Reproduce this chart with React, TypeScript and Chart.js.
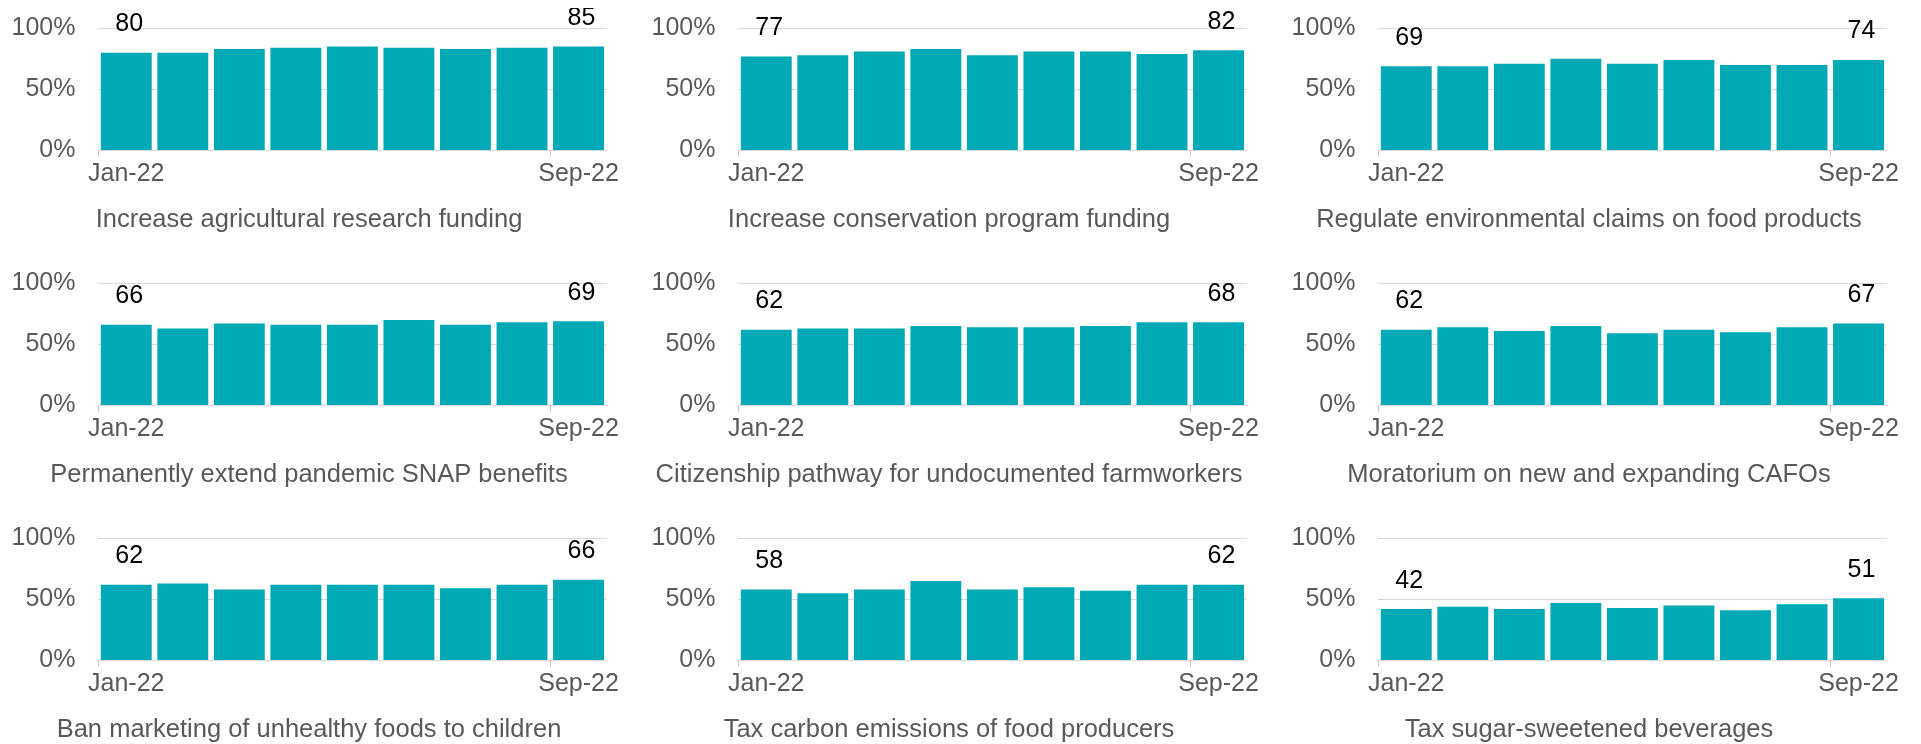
import React, { useEffect, useRef } from 'react';
import { Chart, registerables } from 'chart.js';

Chart.register(...registerables);

const months = ['Jan-22', 'Feb-22', 'Mar-22', 'Apr-22', 'May-22', 'Jun-22', 'Jul-22', 'Aug-22', 'Sep-22'];
const shownTickIndexes = [0, 8];
const yTicks = [0, 50, 100];

const titles = [
  'Increase agricultural research funding',
  'Increase conservation program funding',
  'Regulate environmental claims on food products',
  'Permanently extend pandemic SNAP benefits',
  'Citizenship pathway for undocumented farmworkers',
  'Moratorium on new and expanding CAFOs',
  'Ban marketing of unhealthy foods to children',
  'Tax carbon emissions of food producers',
  'Tax sugar-sweetened beverages',
];

const agResearch = [80, 80, 83, 84, 85, 84, 83, 84, 85];
const conservation = [77, 78, 81, 83, 78, 81, 81, 79, 82];
const envClaims = [69, 69, 71, 75, 71, 74, 70, 70, 74];
const snapBenefits = [66, 63, 67, 66, 66, 70, 66, 68, 69];
const citizenship = [62, 63, 63, 65, 64, 64, 65, 68, 68];
const cafoMoratorium = [62, 64, 61, 65, 59, 62, 60, 64, 67];
const banMarketing = [62, 63, 58, 62, 62, 62, 59, 62, 66];
const carbonTax = [58, 55, 58, 65, 58, 60, 57, 62, 62];
const sugarTax = [42, 44, 42, 47, 43, 45, 41, 46, 51];

const seriesList = [agResearch, conservation, envClaims, snapBenefits, citizenship, cafoMoratorium, banMarketing, carbonTax, sugarTax];

const FONT = '"Liberation Sans", Arial, sans-serif';
const TEAL = 'rgb(0,169,180)';
const GREY_TEXT = '#595959';
const GRID = '#d9d9d9';

const endLabels = {
  id: 'endLabels',
  afterDatasetsDraw(chart: any) {
    const meta = chart.getDatasetMeta(0);
    const data = chart.data.datasets[0].data as number[];
    const ctx = chart.ctx;
    ctx.save();
    ctx.font = `25px ${FONT}`;
    ctx.fillStyle = '#000000';
    ctx.textAlign = 'center';
    ctx.textBaseline = 'middle';
    [0, data.length - 1].forEach((i) => {
      const el = meta.data[i];
      if (el) ctx.fillText(String(data[i]), el.x + 3, el.y - 28.5);
    });
    ctx.restore();
  },
};

function Panel({ title, values }: { title: string; values: number[] }) {
  const ref = useRef<HTMLCanvasElement>(null);
  useEffect(() => {
    if (!ref.current) return;
    const chart = new Chart(ref.current, {
      type: 'bar',
      data: {
        labels: months,
        datasets: [
          {
            data: values,
            backgroundColor: TEAL,
            borderWidth: 0,
            barPercentage: 0.9,
            categoryPercentage: 1.0,
          },
        ],
      },
      options: {
        animation: false,
        responsive: false,
        layout: { padding: { top: 20.3, left: 0, right: 12, bottom: 0 } },
        plugins: {
          legend: { display: false },
          tooltip: { enabled: false },
          title: {
            display: true,
            position: 'bottom',
            text: title,
            color: GREY_TEXT,
            font: { family: FONT, size: 25.5, weight: 'normal' },
            padding: { top: 13, bottom: 28 },
          },
        },
        scales: {
          x: {
            grid: {
              display: true,
              drawOnChartArea: false,
              drawTicks: true,
              tickLength: 6,
              offset: true,
              color: (c: any) => (shownTickIndexes.includes(c.index) ? '#bfbfbf' : 'rgba(0,0,0,0)'),
            },
            border: { display: true, color: GRID },
            ticks: {
              autoSkip: false,
              maxRotation: 0,
              minRotation: 0,
              padding: 2.5,
              color: GREY_TEXT,
              font: { family: FONT, size: 25 },
              callback: (_v: any, i: number) => (shownTickIndexes.includes(i) ? months[i] : ''),
            },
          },
          y: {
            min: yTicks[0],
            max: yTicks[yTicks.length - 1],
            afterFit: (scale: any) => {
              scale.width = 90;
              scale.paddingTop = 0;
              scale.paddingBottom = 0;
            },
            grid: { color: GRID, drawTicks: false },
            border: { display: false },
            ticks: {
              stepSize: 50,
              padding: 22.5,
              color: GREY_TEXT,
              font: { family: FONT, size: 25 },
              callback: (v: any) => `${v}%`,
            },
          },
        },
      },
      plugins: [endLabels],
    });
    return () => chart.destroy();
  }, [title, values]);
  return <canvas ref={ref} width={614} height={255} style={{ display: 'block', width: 614, height: 255 }} />;
}

export default function App() {
  return (
    <div style={{ height: 736, overflow: 'hidden' }}>
      <div
        style={{
          display: 'grid',
          gridTemplateColumns: '640px 640px 614px',
          gridAutoRows: '255px',
        }}
      >
        {titles.map((t, i) => (
          <div key={t}>
            <Panel title={t} values={seriesList[i]} />
          </div>
        ))}
      </div>
    </div>
  );
}
